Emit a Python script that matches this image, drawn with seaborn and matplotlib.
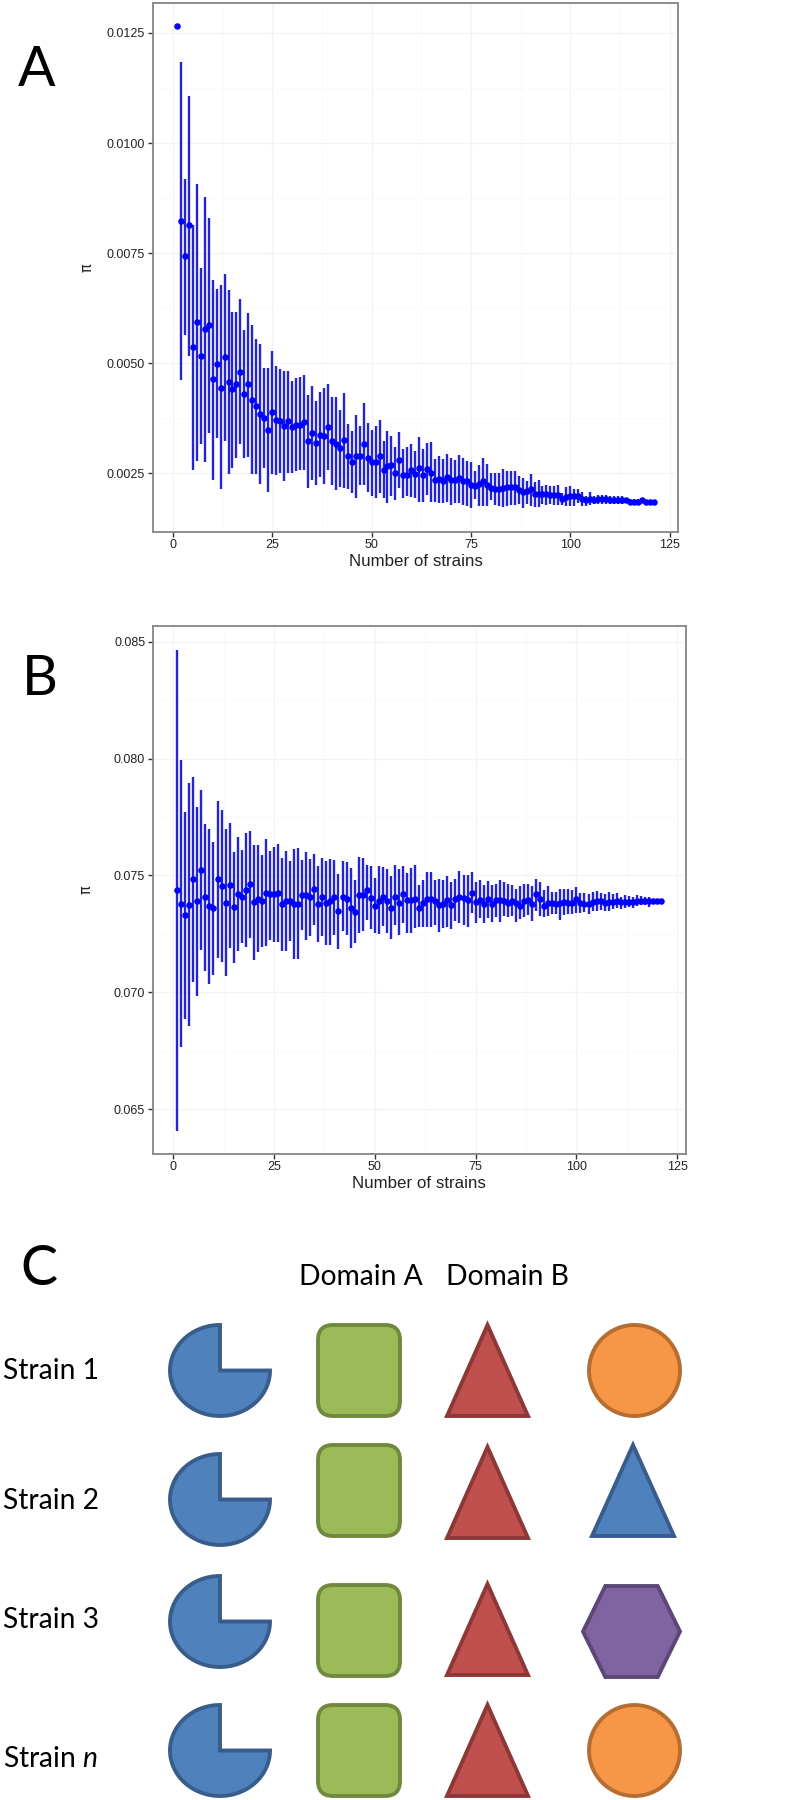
# Nucleotide diversity vs number of strains, plus domain schematic
import numpy as np
import pandas as pd
import seaborn as sns
import matplotlib
matplotlib.use('Agg')
import matplotlib.pyplot as plt
import matplotlib.patches as mpatches

# Panel A values (strains 1..121)
a_mean = [.01266, .00823, .00743, .00814,
          .00536, .00593, .00516, .00577, .00586, .00464, .00498, .00445, .00514, .00457,
          .00442, .00452, .00481, .00431, .00452, .00417, .00402, .00386, .00377, .00348,
          .00389, .00371, .00370, .00358, .00368, .00355, .00361, .00361, .00366, .00323,
          .00342, .00319, .00338, .00336, .00356, .00323, .00318, .00308, .00325, .00289,
          .00276, .00289, .00289, .00317, .00286,
          .00275, .00277, .00290, .00258, .00267, .00270, .00251, .00281, .00246, .00246,
          .00258, .00249, .00263, .00246, .00260, .00252, .00236, .00237, .00233, .00241,
          .00235, .00235, .00239, .00232, .00232, .00224, .00221, .00226, .00232, .00224, .00218,
          .00215, .00214, .00218, .00219, .00219, .00219, .00213, .00207, .00210, .00214,
          .00203, .00203, .00204, .00203, .00201, .00202, .00202, .00192, .00197, .00199,
          .00199, .00199, .00191, .00190, .00191, .00189, .00191, .00191, .00192, .00190,
          .00190, .00189, .00189, .00189, .00186, .00186, .00186, .00189, .00185, .00186, .00186]
a_high = [.01266, .01184, .00919, .01107, .00815, .00908, .00717, .00877, .00830, .00690,
          .00669, .00677, .00703, .00666,
          .00617, .00616, .00645, .00576, .00614, .00588, .00555, .00545, .00490, .00489,
          .00529, .00495, .00486, .00482, .00482, .00459, .00467, .00469, .00473, .00429,
          .00448, .00415, .00436, .00445, .00454, .00423, .00423, .00395, .00433, .00363,
          .00346, .00383, .00357, .00410, .00364,
          .00349, .00357, .00372, .00323, .00347, .00334, .00311, .00343, .00305, .00310,
          .00317, .00302, .00333, .00305, .00319, .00321, .00283, .00289, .00283, .00295,
          .00285, .00280, .00292, .00285, .00279, .00277, .00255, .00270, .00285, .00272, .00252,
          .00252, .00252, .00261, .00255, .00255, .00255, .00245, .00240, .00234, .00248,
          .00230, .00236, .00222, .00224, .00221, .00222, .00224, .00205, .00220, .00221,
          .00214, .00214, .00209, .00199, .00208, .00198, .00202, .00202, .00201, .00199,
          .00199, .00199, .00198, .00195, .00193, .00192, .00191, .00193, .00189, .00190, .00186]
a_low = [.01266, .00463, .00564, .00517, .00258, .00279, .00317, .00277, .00342, .00236,
         .00330, .00214, .00323, .00249, .00263, .00286, .00316, .00285, .00288, .00248,
         .00249, .00227, .00263, .00208, .00249, .00247, .00251, .00234, .00252, .00252,
         .00255, .00258, .00257, .00217, .00236, .00223, .00241, .00227, .00258, .00223,
         .00213, .00220, .00217, .00214, .00205, .00195, .00223, .00224, .00209,
         .00198, .00194, .00205, .00194, .00184, .00198, .00190, .00218, .00194, .00198,
         .00196, .00194, .00186, .00186, .00202, .00186, .00186, .00183, .00183, .00186,
         .00179, .00183, .00184, .00179, .00177, .00171, .00192, .00177, .00177, .00175, .00190,
         .00178, .00177, .00173, .00177, .00179, .00179, .00181, .00172, .00181, .00177,
         .00173, .00173, .00181, .00179, .00180, .00179, .00179, .00179, .00177, .00177,
         .00177, .00183, .00177, .00175, .00179, .00181, .00181, .00181, .00181, .00181,
         .00181, .00180, .00181, .00182, .00182, .00182, .00183, .00184, .00181, .00182, .00185]

# Panel B values (strains 1..121)
b_mean = [.07437, .07379, .07329, .07374, .07483, .07389, .07523, .07406, .07369, .07360,
          .07483, .07453, .07384, .07459, .07364, .07420, .07409, .07437, .07463, .07387,
          .07401, .07391, .07426, .07419, .07420, .07426, .07376, .07391, .07391, .07380,
          .07380, .07416, .07417, .07407, .07441, .07377, .07407, .07384, .07389, .07407,
          .07346, .07410, .07401, .07361, .07344, .07416, .07417, .07436, .07404, .07371,
          .07391, .07407, .07390, .07360, .07407, .07384, .07419, .07396,
          .07396, .07399, .07360, .07381, .07399, .07401, .07389, .07373, .07379, .07396,
          .07374, .07400, .07407, .07403, .07393, .07427, .07386, .07396, .07380, .07399,
          .07380, .07396, .07393,
          .07390, .07384, .07389, .07384, .07370, .07389, .07396, .07379, .07419, .07399,
          .07371, .07384, .07384, .07379, .07381, .07387, .07384, .07384, .07399, .07381,
          .07380, .07380, .07387, .07389, .07390, .07384, .07387, .07387, .07389, .07387,
          .07386, .07386, .07387, .07391, .07390, .07390, .07389, .07390, .07391, .07391]
b_high = [.08467, .07996, .07771, .07896, .07920, .07793, .07864, .07721, .07700, .07644,
          .07817, .07779, .07700, .07726, .07601, .07664, .07610, .07681, .07691, .07630,
          .07630, .07589, .07657, .07606, .07621, .07636, .07576, .07606, .07560, .07613,
          .07617, .07567, .07600, .07570, .07593, .07539, .07576, .07564, .07571, .07567,
          .07507, .07564, .07556, .07534, .07480, .07579, .07574, .07544, .07541, .07489,
          .07539, .07536, .07526, .07496, .07544, .07527, .07541, .07510,
          .07531, .07546, .07460, .07481, .07514, .07513, .07481, .07484, .07481, .07499,
          .07474, .07487, .07519, .07500, .07500, .07517, .07470, .07481, .07460, .07477,
          .07460, .07464, .07481,
          .07471, .07464, .07460, .07441, .07453, .07464, .07464, .07453, .07486, .07470,
          .07439, .07453, .07431, .07431, .07441, .07443, .07443, .07436, .07450, .07427,
          .07424, .07420, .07429, .07434, .07424, .07420, .07429, .07420, .07426, .07410,
          .07416, .07413, .07409, .07416, .07411, .07410, .07409, .07400, .07399, .07396]
b_low = [.06406, .06765, .06886, .06854, .07046, .06985, .07182, .07089, .07036, .07072,
         .07146, .07128, .07071, .07189, .07125, .07175, .07211, .07194, .07232, .07139,
         .07171, .07194, .07196, .07225, .07215, .07215, .07175, .07178, .07218, .07144,
         .07144, .07265, .07225, .07239, .07289, .07215, .07239, .07204, .07204, .07246,
         .07186, .07261, .07244, .07189, .07211, .07254, .07264, .07311, .07271, .07254,
         .07251, .07282,
         .07253, .07227, .07289, .07246, .07296, .07253, .07253, .07274, .07281, .07279,
         .07281, .07281, .07289, .07260, .07274, .07279, .07270, .07307, .07296, .07289,
         .07281, .07339, .07296, .07317, .07296, .07317, .07303, .07321, .07303,
         .07327, .07321, .07327, .07299, .07313, .07324, .07331, .07307, .07346, .07327,
         .07321, .07327, .07333, .07336, .07310, .07331, .07336, .07336, .07339, .07339,
         .07344, .07336, .07347, .07350, .07353, .07350, .07350, .07356, .07359, .07356,
         .07361, .07364, .07361, .07371, .07373, .07373, .07367, .07381, .07383, .07386]

x_ticks = [0, 25, 50, 75, 100, 125]
a_yticks = [.0025, .0050, .0075, .0100, .0125]
b_yticks = [.065, .070, .075, .080, .085]

# Panel C content
strain_labels = ['Strain 1', 'Strain 2', 'Strain 3', 'Strain $\\mathit{n}$']
domain_labels = ['Domain A', 'Domain B']
strain_shapes = [['pie', 'square', 'triangle', 'circle'],
                 ['pie', 'square', 'triangle', 'bluetri'],
                 ['pie', 'square', 'triangle', 'hexagon'],
                 ['pie', 'square', 'triangle', 'circle']]

sns.set_theme(style='white')
plt.rcParams['font.family'] = ['Liberation Sans', 'DejaVu Sans']
plt.rcParams['mathtext.fontset'] = 'custom'
plt.rcParams['mathtext.it'] = 'Lato:italic'
plt.rcParams['mathtext.rm'] = 'Lato'

W, H = 792, 1800
fig = plt.figure(figsize=(W / 100, H / 100), dpi=100)


def add_axes_px(left, top, right, bottom):
    return fig.add_axes([left / W, 1 - bottom / H, (right - left) / W, (bottom - top) / H])


def diversity_panel(box, mean, low, high, yticks, ylim, fmt):
    ax = add_axes_px(*box)
    df = pd.DataFrame({'strains': np.arange(1, 122), 'pi': mean, 'low': low, 'high': high})
    ax.vlines(df['strains'], df['low'], df['high'], color='#2424d4', lw=1.7, zorder=3)
    sns.scatterplot(data=df, x='strains', y='pi', ax=ax, color='#0000ff', s=22,
                    linewidth=0, zorder=4)
    ax.set_xlim(-5, 127.1)
    ax.set_ylim(*ylim)
    ax.set_xticks(x_ticks)
    ax.set_yticks(yticks)
    ax.set_yticklabels([fmt % t for t in yticks])
    ax.set_xticks(np.array(x_ticks[:-1]) + 12.5, minor=True)
    ystep = yticks[1] - yticks[0]
    ax.set_yticks(np.array(yticks[:-1]) + ystep / 2, minor=True)
    ax.grid(True, which='major', color='#f3f3f3', lw=0.9)
    ax.grid(True, which='minor', color='#fafafa', lw=0.7)
    ax.set_axisbelow(True)
    ax.tick_params(which='major', length=3.6, width=1, color='#333333', pad=2,
                   labelsize=9, labelcolor='#222222', left=True, bottom=True)
    ax.tick_params(which='minor', length=0)
    for s in ax.spines.values():
        s.set_color('#858585')
        s.set_linewidth(1.3)
    ax.set_xlabel('Number of strains', fontsize=12.2, color='#222222')
    ax.set_ylabel('\u03c0', fontsize=10.5, color='#222222', family=['DejaVu Sans'])
    ax.xaxis.set_label_coords(0.5, -0.043)
    ax.yaxis.set_label_coords(-0.112, 0.5)
    return ax


diversity_panel((153, 3, 678, 531.6), a_mean, a_low, a_high, a_yticks, (.00118, .01318), '%.4f')
diversity_panel((153, 626, 685.7, 1153.7), b_mean, b_low, b_high, b_yticks, (.06309, .08568), '%.3f')

# Overlay in pixel coordinates for the letters and the schematic
ov = fig.add_axes([0, 0, 1, 1], zorder=5)
ov.set_xlim(0, W)
ov.set_ylim(H, 0)
ov.axis('off')
ov.patch.set_alpha(0)

for letter, x, y in zip('ABC', [18, 22, 20], [86, 695, 1285]):
    ov.text(x, y, letter, fontsize=40, family='Lato', color='black', ha='left', va='baseline')
for lab, x in zip(domain_labels, [299, 446]):
    ov.text(x, 1285, lab, fontsize=20.3, family='Lato', color='black', ha='left', va='baseline')
for lab, y in zip(strain_labels, [1379, 1509, 1628, 1767]):
    ov.text(3, y, lab, fontsize=20.3, family='Lato', color='black', ha='left', va='baseline')

styles = {'pie': ('#4f81bd', '#385d8a'), 'square': ('#9bbb59', '#71893f'),
          'triangle': ('#c0504d', '#8c3836'), 'circle': ('#f79646', '#b66d31'),
          'bluetri': ('#4f81bd', '#385d8a'), 'hexagon': ('#8064a2', '#5c4776')}
col_box = {'pie': (170, 270), 'square': (318, 400), 'triangle': (447, 528),
           'circle': (589, 680), 'bluetri': (592, 674), 'hexagon': (583, 680)}
# top of each shape in a row: pie, square, triangle, last
row_tops = [[1325, 1325, 1325, 1325],
            [1454, 1445, 1447, 1445],
            [1576, 1585, 1584, 1586],
            [1705, 1705, 1705, 1705]]
shape_h = 91
edge_lw = 2.8


def draw_shape(kind, top):
    x0, x1 = col_box[kind]
    y0, y1 = top, top + shape_h
    cx, cy = (x0 + x1) / 2, (y0 + y1) / 2
    face, edge = styles[kind]
    kw = dict(facecolor=face, edgecolor=edge, lw=edge_lw, joinstyle='miter')
    if kind == 'pie':
        t = np.radians(np.linspace(0, 270, 100))
        pts = np.column_stack([cx + (x1 - x0) / 2 * np.cos(t), cy + (y1 - y0) / 2 * np.sin(t)])
        pts = np.vstack([pts, [cx, cy]])
        p = mpatches.Polygon(pts, closed=True, **kw)
    elif kind == 'square':
        p = mpatches.FancyBboxPatch((x0, y0), x1 - x0, y1 - y0, boxstyle='round,pad=0,rounding_size=15',
                                    facecolor=face, edgecolor=edge, lw=edge_lw)
    elif kind in ('triangle', 'bluetri'):
        p = mpatches.Polygon([(cx, y0), (x1, y1), (x0, y1)], closed=True, **kw)
    elif kind == 'circle':
        p = mpatches.Ellipse((cx, cy), x1 - x0, y1 - y0, facecolor=face, edgecolor=edge, lw=edge_lw)
    else:
        d = (x1 - x0) * 0.23
        p = mpatches.Polygon([(x0 + d, y0), (x1 - d, y0), (x1, cy), (x1 - d, y1), (x0 + d, y1), (x0, cy)],
                             closed=True, **kw)
    ov.add_patch(p)


for shapes, tops in zip(strain_shapes, row_tops):
    for kind, top in zip(shapes, tops):
        draw_shape(kind, top)

fig.savefig('out.png', dpi=100, facecolor='white')
